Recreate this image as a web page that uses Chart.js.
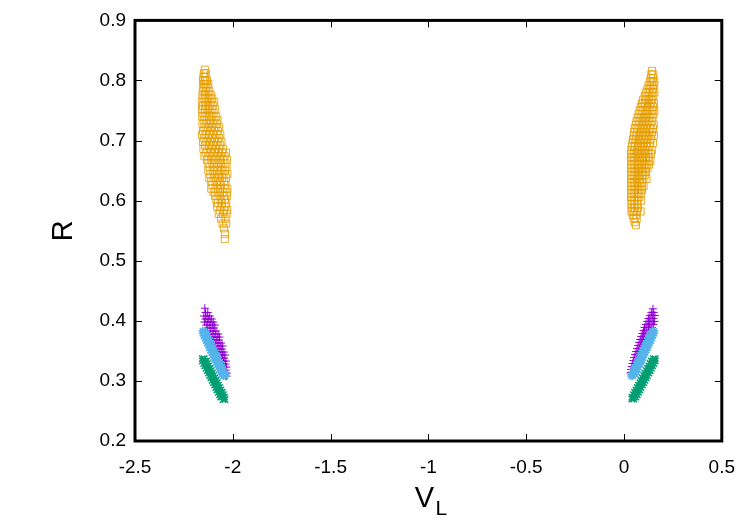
<!DOCTYPE html>
<html>
<head>
<meta charset="utf-8">
<script src="https://cdn.jsdelivr.net/npm/chart.js@4/dist/chart.umd.min.js"></script>
<style>
  body { margin: 0; background: #fff; }
  canvas { display: block; }
</style>
</head>
<body>
<canvas id="plot" width="750" height="525"></canvas>
<script>
// tick labels
const xTicks = [-2.5, -2, -1.5, -1, -0.5, 0, 0.5];
const yTicks = [0.2, 0.3, 0.4, 0.5, 0.6, 0.7, 0.8, 0.9];

// [V_L, R] points
const purpleLeft = [
  [-2.143, 0.421], [-2.140, 0.414], [-2.128, 0.414], [-2.148, 0.408], [-2.132, 0.408], [-2.118, 0.408],
  [-2.140, 0.403], [-2.125, 0.403], [-2.108, 0.403], [-2.145, 0.398], [-2.130, 0.398], [-2.115, 0.398], [-2.100, 0.398],
  [-2.136, 0.393], [-2.120, 0.393], [-2.104, 0.393], [-2.092, 0.393], [-2.128, 0.388], [-2.112, 0.388], [-2.096, 0.388],
  [-2.132, 0.383], [-2.116, 0.383], [-2.100, 0.383], [-2.086, 0.383], [-2.122, 0.378], [-2.106, 0.378], [-2.090, 0.378],
  [-2.075, 0.378], [-2.112, 0.373], [-2.096, 0.373], [-2.080, 0.373], [-2.068, 0.373], [-2.116, 0.368], [-2.100, 0.368],
  [-2.085, 0.368], [-2.070, 0.368], [-2.105, 0.363], [-2.090, 0.363], [-2.075, 0.363], [-2.060, 0.363],
  [-2.095, 0.358], [-2.080, 0.358], [-2.065, 0.358], [-2.052, 0.358], [-2.100, 0.353], [-2.085, 0.353], [-2.070, 0.353],
  [-2.056, 0.353], [-2.090, 0.348], [-2.075, 0.348], [-2.060, 0.348], [-2.046, 0.348], [-2.080, 0.343], [-2.066, 0.343],
  [-2.052, 0.343], [-2.040, 0.343], [-2.072, 0.338], [-2.058, 0.338], [-2.044, 0.338], [-2.078, 0.333], [-2.062, 0.333],
  [-2.048, 0.333], [-2.035, 0.333], [-2.066, 0.328], [-2.052, 0.328], [-2.038, 0.328], [-2.058, 0.323], [-2.044, 0.323],
  [-2.032, 0.323], [-2.050, 0.318], [-2.036, 0.318], [-2.042, 0.313], [-2.030, 0.313], [-2.032, 0.308]
];
const purpleRight = [
  [0.148, 0.420], [0.140, 0.414], [0.152, 0.414], [0.132, 0.409], [0.145, 0.409], [0.158, 0.409],
  [0.125, 0.404], [0.138, 0.404], [0.150, 0.404], [0.118, 0.399], [0.131, 0.399], [0.144, 0.399], [0.156, 0.399],
  [0.112, 0.394], [0.125, 0.394], [0.138, 0.394], [0.150, 0.394], [0.105, 0.389], [0.118, 0.389], [0.131, 0.389],
  [0.143, 0.389], [0.100, 0.384], [0.112, 0.384], [0.125, 0.384], [0.138, 0.384], [0.094, 0.379], [0.106, 0.379],
  [0.118, 0.379], [0.132, 0.379], [0.088, 0.374], [0.100, 0.374], [0.112, 0.374], [0.126, 0.374], [0.083, 0.369],
  [0.095, 0.369], [0.107, 0.369], [0.120, 0.369], [0.077, 0.364], [0.089, 0.364], [0.101, 0.364], [0.114, 0.364],
  [0.072, 0.359], [0.084, 0.359], [0.096, 0.359], [0.108, 0.359], [0.067, 0.354], [0.079, 0.354], [0.091, 0.354],
  [0.103, 0.354], [0.062, 0.349], [0.074, 0.349], [0.086, 0.349], [0.098, 0.349], [0.057, 0.344], [0.069, 0.344],
  [0.081, 0.344], [0.093, 0.344], [0.052, 0.339], [0.064, 0.339], [0.076, 0.339], [0.088, 0.339], [0.048, 0.334],
  [0.060, 0.334], [0.072, 0.334], [0.084, 0.334], [0.044, 0.329], [0.056, 0.329], [0.068, 0.329], [0.080, 0.329],
  [0.040, 0.324], [0.052, 0.324], [0.064, 0.324], [0.036, 0.319], [0.048, 0.319], [0.060, 0.319], [0.034, 0.314],
  [0.045, 0.314]
];

const greenLeft = [
  [-2.156, 0.337], [-2.146, 0.337], [-2.155, 0.333], [-2.145, 0.333], [-2.135, 0.333], [-2.149, 0.329], [-2.139, 0.329],
  [-2.129, 0.329], [-2.143, 0.325], [-2.133, 0.325], [-2.123, 0.325], [-2.136, 0.321], [-2.126, 0.321], [-2.116, 0.321],
  [-2.130, 0.317], [-2.120, 0.317], [-2.110, 0.317], [-2.124, 0.313], [-2.114, 0.313], [-2.104, 0.313], [-2.118, 0.309],
  [-2.108, 0.309], [-2.098, 0.309], [-2.112, 0.305], [-2.102, 0.305], [-2.092, 0.305], [-2.105, 0.301], [-2.095, 0.301],
  [-2.085, 0.301], [-2.099, 0.297], [-2.089, 0.297], [-2.079, 0.297], [-2.093, 0.293], [-2.083, 0.293], [-2.073, 0.293],
  [-2.087, 0.289], [-2.077, 0.289], [-2.067, 0.289], [-2.081, 0.285], [-2.071, 0.285], [-2.061, 0.285], [-2.074, 0.281],
  [-2.064, 0.281], [-2.054, 0.281], [-2.068, 0.277], [-2.058, 0.277], [-2.048, 0.277], [-2.062, 0.273], [-2.052, 0.273],
  [-2.042, 0.273], [-2.050, 0.269], [-2.040, 0.269]
];
const greenRight = [
  [0.150, 0.337], [0.160, 0.337], [0.140, 0.333], [0.150, 0.333], [0.160, 0.333], [0.133, 0.329], [0.143, 0.329],
  [0.153, 0.329], [0.127, 0.325], [0.137, 0.325], [0.147, 0.325], [0.120, 0.321], [0.130, 0.321], [0.140, 0.321],
  [0.114, 0.317], [0.124, 0.317], [0.134, 0.317], [0.107, 0.313], [0.117, 0.313], [0.127, 0.313], [0.100, 0.309],
  [0.110, 0.309], [0.120, 0.309], [0.094, 0.305], [0.104, 0.305], [0.114, 0.305], [0.087, 0.301], [0.097, 0.301],
  [0.107, 0.301], [0.081, 0.297], [0.091, 0.297], [0.101, 0.297], [0.074, 0.293], [0.084, 0.293], [0.094, 0.293],
  [0.067, 0.289], [0.077, 0.289], [0.087, 0.289], [0.061, 0.285], [0.071, 0.285], [0.081, 0.285], [0.054, 0.281],
  [0.064, 0.281], [0.074, 0.281], [0.048, 0.277], [0.058, 0.277], [0.068, 0.277], [0.041, 0.273], [0.051, 0.273],
  [0.061, 0.273], [0.040, 0.270], [0.050, 0.270]
];

const blueLeft = [
  [-2.155, 0.383], [-2.145, 0.383], [-2.154, 0.379], [-2.144, 0.379], [-2.134, 0.379], [-2.149, 0.375], [-2.139, 0.375],
  [-2.129, 0.375], [-2.143, 0.371], [-2.133, 0.371], [-2.123, 0.371], [-2.137, 0.367], [-2.127, 0.367], [-2.117, 0.367],
  [-2.132, 0.363], [-2.122, 0.363], [-2.112, 0.363], [-2.126, 0.359], [-2.116, 0.359], [-2.106, 0.359], [-2.120, 0.355],
  [-2.110, 0.355], [-2.100, 0.355], [-2.115, 0.351], [-2.105, 0.351], [-2.095, 0.351], [-2.109, 0.347], [-2.099, 0.347],
  [-2.089, 0.347], [-2.103, 0.343], [-2.093, 0.343], [-2.083, 0.343], [-2.098, 0.339], [-2.088, 0.339], [-2.078, 0.339],
  [-2.092, 0.335], [-2.082, 0.335], [-2.072, 0.335], [-2.086, 0.331], [-2.076, 0.331], [-2.066, 0.331], [-2.080, 0.327],
  [-2.070, 0.327], [-2.060, 0.327], [-2.075, 0.323], [-2.065, 0.323], [-2.055, 0.323], [-2.069, 0.319], [-2.059, 0.319],
  [-2.049, 0.319], [-2.063, 0.315], [-2.053, 0.315], [-2.043, 0.315], [-2.058, 0.311], [-2.048, 0.311], [-2.038, 0.311],
  [-2.048, 0.308], [-2.038, 0.308]
];
const blueRight = [
  [0.145, 0.383], [0.155, 0.383], [0.134, 0.379], [0.144, 0.379], [0.154, 0.379], [0.129, 0.375], [0.139, 0.375],
  [0.149, 0.375], [0.123, 0.371], [0.133, 0.371], [0.143, 0.371], [0.117, 0.367], [0.127, 0.367], [0.137, 0.367],
  [0.112, 0.363], [0.122, 0.363], [0.132, 0.363], [0.106, 0.359], [0.116, 0.359], [0.126, 0.359], [0.100, 0.355],
  [0.110, 0.355], [0.120, 0.355], [0.095, 0.351], [0.105, 0.351], [0.115, 0.351], [0.089, 0.347], [0.099, 0.347],
  [0.109, 0.347], [0.083, 0.343], [0.093, 0.343], [0.103, 0.343], [0.078, 0.339], [0.088, 0.339], [0.098, 0.339],
  [0.072, 0.335], [0.082, 0.335], [0.092, 0.335], [0.066, 0.331], [0.076, 0.331], [0.086, 0.331], [0.061, 0.327],
  [0.071, 0.327], [0.081, 0.327], [0.055, 0.323], [0.065, 0.323], [0.075, 0.323], [0.049, 0.319], [0.059, 0.319],
  [0.069, 0.319], [0.044, 0.315], [0.054, 0.315], [0.064, 0.315], [0.038, 0.311], [0.048, 0.311], [0.058, 0.311],
  [0.036, 0.308], [0.046, 0.308]
];

const orangeLeft = [
  [-2.143, 0.818], [-2.148, 0.812], [-2.138, 0.812], [-2.150, 0.806], [-2.140, 0.806], [-2.152, 0.800], [-2.142, 0.800],
  [-2.132, 0.800], [-2.147, 0.794], [-2.136, 0.794], [-2.125, 0.794], [-2.153, 0.788], [-2.140, 0.788], [-2.128, 0.788],
  [-2.150, 0.782], [-2.136, 0.782], [-2.120, 0.782], [-2.155, 0.776], [-2.142, 0.776], [-2.128, 0.776], [-2.112, 0.776],
  [-2.150, 0.770], [-2.135, 0.770], [-2.120, 0.770], [-2.105, 0.770], [-2.158, 0.764], [-2.143, 0.764], [-2.128, 0.764],
  [-2.110, 0.764], [-2.095, 0.764], [-2.152, 0.758], [-2.136, 0.758], [-2.118, 0.758], [-2.100, 0.758], [-2.157, 0.752],
  [-2.142, 0.752], [-2.125, 0.752], [-2.108, 0.752], [-2.090, 0.752], [-2.150, 0.746], [-2.133, 0.746], [-2.115, 0.746],
  [-2.098, 0.746], [-2.156, 0.740], [-2.140, 0.740], [-2.122, 0.740], [-2.105, 0.740], [-2.085, 0.740], [-2.148, 0.734],
  [-2.130, 0.734], [-2.112, 0.734], [-2.094, 0.734], [-2.078, 0.734], [-2.155, 0.728], [-2.138, 0.728], [-2.120, 0.728],
  [-2.100, 0.728], [-2.082, 0.728], [-2.145, 0.722], [-2.127, 0.722], [-2.108, 0.722], [-2.088, 0.722], [-2.070, 0.722],
  [-2.152, 0.716], [-2.134, 0.716], [-2.115, 0.716], [-2.096, 0.716], [-2.076, 0.716], [-2.157, 0.710], [-2.140, 0.710],
  [-2.122, 0.710], [-2.102, 0.710], [-2.083, 0.710], [-2.064, 0.710], [-2.146, 0.704], [-2.128, 0.704], [-2.108, 0.704],
  [-2.090, 0.704], [-2.070, 0.704], [-2.152, 0.698], [-2.135, 0.698], [-2.116, 0.698], [-2.096, 0.698], [-2.077, 0.698],
  [-2.058, 0.698], [-2.142, 0.692], [-2.122, 0.692], [-2.103, 0.692], [-2.083, 0.692], [-2.064, 0.692], [-2.150, 0.686],
  [-2.130, 0.686], [-2.110, 0.686], [-2.090, 0.686], [-2.070, 0.686], [-2.050, 0.686], [-2.138, 0.680], [-2.118, 0.680],
  [-2.097, 0.680], [-2.076, 0.680], [-2.055, 0.680], [-2.035, 0.680], [-2.145, 0.674], [-2.125, 0.674], [-2.104, 0.674],
  [-2.083, 0.674], [-2.062, 0.674], [-2.042, 0.674], [-2.132, 0.668], [-2.110, 0.668], [-2.090, 0.668], [-2.068, 0.668],
  [-2.048, 0.668], [-2.030, 0.668], [-2.125, 0.662], [-2.104, 0.662], [-2.082, 0.662], [-2.060, 0.662], [-2.038, 0.662],
  [-2.118, 0.656], [-2.096, 0.656], [-2.074, 0.656], [-2.052, 0.656], [-2.032, 0.656], [-2.125, 0.650], [-2.102, 0.650],
  [-2.080, 0.650], [-2.058, 0.650], [-2.040, 0.650], [-2.115, 0.644], [-2.093, 0.644], [-2.070, 0.644], [-2.048, 0.644],
  [-2.028, 0.644], [-2.120, 0.638], [-2.098, 0.638], [-2.076, 0.638], [-2.055, 0.638], [-2.035, 0.638], [-2.110, 0.632],
  [-2.088, 0.632], [-2.066, 0.632], [-2.044, 0.632], [-2.104, 0.626], [-2.082, 0.626], [-2.060, 0.626], [-2.038, 0.626],
  [-2.110, 0.620], [-2.088, 0.620], [-2.065, 0.620], [-2.042, 0.620], [-2.028, 0.620], [-2.098, 0.614], [-2.075, 0.614],
  [-2.052, 0.614], [-2.032, 0.614], [-2.090, 0.608], [-2.068, 0.608], [-2.046, 0.608], [-2.030, 0.608], [-2.084, 0.602],
  [-2.062, 0.602], [-2.040, 0.602], [-2.076, 0.596], [-2.055, 0.596], [-2.034, 0.596], [-2.080, 0.590], [-2.058, 0.590],
  [-2.038, 0.590], [-2.066, 0.584], [-2.045, 0.584], [-2.028, 0.584], [-2.072, 0.578], [-2.050, 0.578], [-2.032, 0.578],
  [-2.060, 0.570], [-2.038, 0.570], [-2.052, 0.562], [-2.034, 0.562], [-2.045, 0.554], [-2.040, 0.545], [-2.041, 0.536]
];
const orangeRight = [
  [0.143, 0.816], [0.140, 0.810], [0.150, 0.810], [0.137, 0.804], [0.148, 0.804], [0.132, 0.798], [0.145, 0.798],
  [0.155, 0.798], [0.126, 0.792], [0.140, 0.792], [0.152, 0.792], [0.120, 0.786], [0.134, 0.786], [0.148, 0.786],
  [0.112, 0.780], [0.127, 0.780], [0.142, 0.780], [0.155, 0.780], [0.106, 0.774], [0.120, 0.774], [0.136, 0.774],
  [0.150, 0.774], [0.098, 0.768], [0.113, 0.768], [0.128, 0.768], [0.144, 0.768], [0.092, 0.762], [0.107, 0.762],
  [0.122, 0.762], [0.138, 0.762], [0.153, 0.762], [0.086, 0.756], [0.100, 0.756], [0.116, 0.756], [0.132, 0.756],
  [0.148, 0.756], [0.080, 0.750], [0.095, 0.750], [0.110, 0.750], [0.126, 0.750], [0.142, 0.750], [0.155, 0.750],
  [0.075, 0.744], [0.090, 0.744], [0.105, 0.744], [0.120, 0.744], [0.136, 0.744], [0.150, 0.744], [0.070, 0.738],
  [0.085, 0.738], [0.100, 0.738], [0.115, 0.738], [0.130, 0.738], [0.146, 0.738], [0.064, 0.732], [0.080, 0.732],
  [0.095, 0.732], [0.110, 0.732], [0.126, 0.732], [0.142, 0.732], [0.060, 0.726], [0.075, 0.726], [0.090, 0.726],
  [0.105, 0.726], [0.120, 0.726], [0.136, 0.726], [0.152, 0.726], [0.055, 0.720], [0.070, 0.720], [0.086, 0.720],
  [0.101, 0.720], [0.116, 0.720], [0.132, 0.720], [0.148, 0.720], [0.052, 0.714], [0.066, 0.714], [0.082, 0.714],
  [0.097, 0.714], [0.112, 0.714], [0.128, 0.714], [0.144, 0.714], [0.050, 0.708], [0.064, 0.708], [0.078, 0.708],
  [0.094, 0.708], [0.110, 0.708], [0.125, 0.708], [0.140, 0.708], [0.153, 0.708], [0.046, 0.702], [0.060, 0.702],
  [0.075, 0.702], [0.090, 0.702], [0.106, 0.702], [0.120, 0.702], [0.136, 0.702], [0.043, 0.696], [0.058, 0.696],
  [0.072, 0.696], [0.087, 0.696], [0.102, 0.696], [0.117, 0.696], [0.132, 0.696], [0.148, 0.696], [0.040, 0.690],
  [0.055, 0.690], [0.070, 0.690], [0.085, 0.690], [0.100, 0.690], [0.115, 0.690], [0.130, 0.690], [0.038, 0.684],
  [0.052, 0.684], [0.066, 0.684], [0.080, 0.684], [0.095, 0.684], [0.110, 0.684], [0.125, 0.684], [0.142, 0.684],
  [0.036, 0.678], [0.050, 0.678], [0.064, 0.678], [0.078, 0.678], [0.093, 0.678], [0.108, 0.678], [0.122, 0.678],
  [0.138, 0.678], [0.040, 0.672], [0.054, 0.672], [0.068, 0.672], [0.082, 0.672], [0.097, 0.672], [0.112, 0.672],
  [0.127, 0.672], [0.036, 0.666], [0.050, 0.666], [0.064, 0.666], [0.078, 0.666], [0.092, 0.666], [0.106, 0.666],
  [0.120, 0.666], [0.135, 0.666], [0.040, 0.660], [0.055, 0.660], [0.070, 0.660], [0.085, 0.660], [0.100, 0.660],
  [0.114, 0.660], [0.128, 0.660], [0.036, 0.654], [0.050, 0.654], [0.064, 0.654], [0.078, 0.654], [0.092, 0.654],
  [0.106, 0.654], [0.120, 0.654], [0.040, 0.648], [0.055, 0.648], [0.070, 0.648], [0.084, 0.648], [0.098, 0.648],
  [0.112, 0.648], [0.036, 0.642], [0.050, 0.642], [0.064, 0.642], [0.078, 0.642], [0.092, 0.642], [0.106, 0.642],
  [0.040, 0.636], [0.054, 0.636], [0.068, 0.636], [0.082, 0.636], [0.098, 0.636], [0.115, 0.636], [0.036, 0.630],
  [0.050, 0.630], [0.064, 0.630], [0.078, 0.630], [0.092, 0.630], [0.040, 0.624], [0.055, 0.624], [0.070, 0.624],
  [0.085, 0.624], [0.100, 0.624], [0.036, 0.618], [0.050, 0.618], [0.064, 0.618], [0.078, 0.618], [0.092, 0.618],
  [0.040, 0.612], [0.055, 0.612], [0.070, 0.612], [0.086, 0.612], [0.036, 0.606], [0.050, 0.606], [0.064, 0.606],
  [0.078, 0.606], [0.040, 0.600], [0.055, 0.600], [0.070, 0.600], [0.088, 0.600], [0.038, 0.594], [0.052, 0.594],
  [0.066, 0.594], [0.042, 0.588], [0.056, 0.588], [0.072, 0.588], [0.038, 0.582], [0.052, 0.582], [0.066, 0.582],
  [0.085, 0.582], [0.045, 0.576], [0.060, 0.576], [0.050, 0.570], [0.065, 0.570], [0.055, 0.564], [0.061, 0.559]
];

const toPoints = pairs => pairs.map(p => ({ x: p[0], y: p[1] }));
const font = "'Liberation Sans', Arial, sans-serif";

// gnuplot style frame with inward (and mirrored) tick marks, plus axis titles
const framePlugin = {
  id: "frame",
  afterDraw(chart) {
    const { ctx, chartArea: a, scales } = chart;
    ctx.save();
    ctx.strokeStyle = "#000";
    ctx.lineWidth = 1;
    ctx.beginPath();
    xTicks.forEach(v => {
      const px = Math.round(scales.x.getPixelForValue(v)) + 0.5;
      ctx.moveTo(px, a.bottom); ctx.lineTo(px, a.bottom - 7);
      ctx.moveTo(px, a.top); ctx.lineTo(px, a.top + 7);
    });
    yTicks.forEach(v => {
      const py = Math.round(scales.y.getPixelForValue(v)) + 0.5;
      ctx.moveTo(a.left, py); ctx.lineTo(a.left + 7, py);
      ctx.moveTo(a.right, py); ctx.lineTo(a.right - 7, py);
    });
    ctx.stroke();
    ctx.lineWidth = 3;
    ctx.strokeRect(a.left, a.top, a.right - a.left, a.bottom - a.top);

    ctx.fillStyle = "#000";
    ctx.textAlign = "center";
    ctx.textBaseline = "alphabetic";
    ctx.font = "29px " + font;
    const cx = (a.left + a.right) / 2;
    ctx.fillText("V", cx - 4, 507);
    ctx.font = "21px " + font;
    ctx.fillText("L", cx + 13, 515);

    ctx.translate(72, (a.top + a.bottom) / 2);
    ctx.rotate(-Math.PI / 2);
    ctx.font = "29px " + font;
    ctx.fillText("R", 0, 0);
    ctx.restore();
  }
};

new Chart(document.getElementById("plot"), {
  type: "scatter",
  data: {
    datasets: [
      {
        data: toPoints(purpleLeft.concat(purpleRight)),
        pointStyle: "cross", radius: 4, borderWidth: 1,
        borderColor: "#9400D3", backgroundColor: "#9400D3", order: 4
      },
      {
        data: toPoints(greenLeft.concat(greenRight)),
        pointStyle: "crossRot", radius: 4.5, borderWidth: 1.5,
        borderColor: "#009E73", backgroundColor: "#009E73", order: 3
      },
      {
        data: toPoints(blueLeft.concat(blueRight)),
        pointStyle: "star", radius: 4, borderWidth: 1.5,
        borderColor: "#56B4E9", backgroundColor: "#56B4E9", order: 2
      },
      {
        data: toPoints(orangeLeft.concat(orangeRight)),
        pointStyle: "rect", radius: 5, borderWidth: 1,
        borderColor: "rgba(230,159,0,0.85)", backgroundColor: "rgba(0,0,0,0)", order: 1
      }
    ]
  },
  options: {
    responsive: false,
    animation: false,
    devicePixelRatio: 1,
    layout: { padding: { top: 17, right: 27, left: 0, bottom: 0 } },
    plugins: { legend: { display: false }, tooltip: { enabled: false } },
    elements: { point: { hoverRadius: 4 } },
    scales: {
      x: {
        type: "linear",
        min: -2.5, max: 0.5,
        afterBuildTicks: axis => { axis.ticks = xTicks.map(v => ({ value: v })); },
        afterFit: axis => { axis.height = 84; },
        grid: { display: false, drawTicks: false },
        border: { display: false },
        ticks: { color: "#000", padding: 15, font: { family: font, size: 19 }, callback: v => String(v) }
      },
      y: {
        type: "linear",
        min: 0.2, max: 0.9,
        afterBuildTicks: axis => { axis.ticks = yTicks.map(v => ({ value: v })); },
        afterFit: axis => { axis.width = 135; },
        grid: { display: false, drawTicks: false },
        border: { display: false },
        ticks: { color: "#000", padding: 9, font: { family: font, size: 19 }, callback: v => String(v) }
      }
    }
  },
  plugins: [framePlugin]
});
</script>
</body>
</html>
